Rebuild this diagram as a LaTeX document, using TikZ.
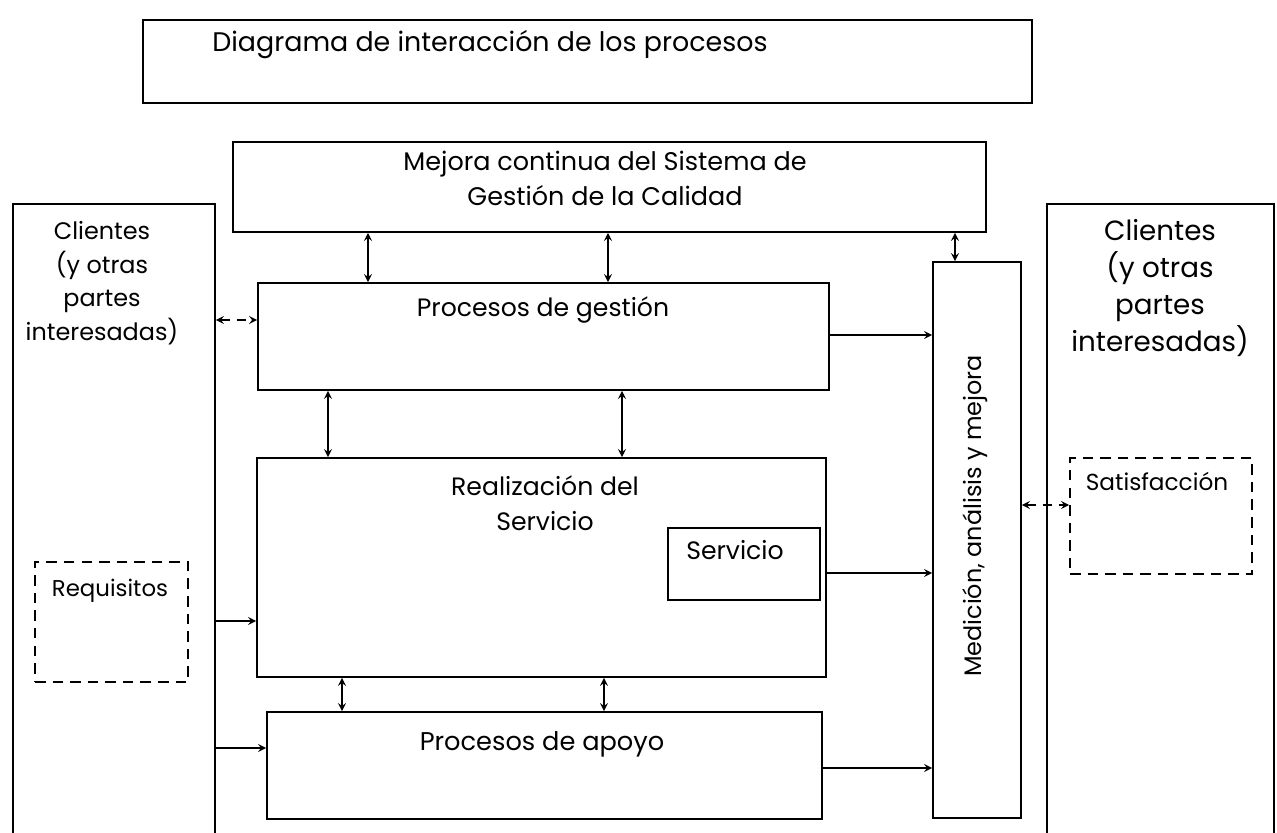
\documentclass[tikz,border=0pt]{standalone}
\usepackage{fontspec}
\setmainfont{Poppins}
\usetikzlibrary{positioning,fit}
\begin{document}
\begin{tikzpicture}[x=0.02cm, y=-0.02cm, >=stealth,
	box/.style={draw, line width=1pt, inner sep=0pt},
	dbox/.style={draw, line width=1pt, dash pattern=on 6pt off 4pt, inner sep=0pt},
	txt/.style={align=center, inner sep=0pt, font=\fontsize{14.3}{20}\selectfont},
	link/.style={line width=1pt, ->},
	both/.style={line width=1pt, <->},
	dboth/.style={line width=1pt, <->, dash pattern=on 5pt off 4pt}]
	\useasboundingbox (0,0) rectangle (1277,832);
	\clip (0,0) rectangle (1277,832);
	% cajas
	\node[box, fit={(143,20) (1032,103)}] (titulo) {};
	\node[box, fit={(233,142) (986,232)}] (mejora) {};
	\node[box, fit={(13,204) (215,850)}] (clientesL) {};
	\node[box, fit={(1047,204) (1274,850)}] (clientesR) {};
	\node[box, fit={(258,283) (829,390)}] (gestion) {};
	\node[box, fit={(257,458) (826,677)}] (real) {};
	\node[box, fit={(668,528) (820,600)}] (servicio) {};
	\node[box, fit={(267,712) (822,819)}] (apoyo) {};
	\node[box, fit={(933,262) (1021,818)}] (medicion) {};
	\node[dbox, fit={(35,562) (188,682)}] (requisitos) {};
	\node[dbox, fit={(1070,458) (1252,574)}] (satisfaccion) {};
	% textos
	\node[txt, anchor=west, font=\fontsize{15.3}{18}\selectfont] (titulotxt) at (212,45) {Diagrama de interacción de los procesos};
	\node[txt, font=\fontsize{14.5}{20}\selectfont] (mejoratxt) at (605,178) {Mejora continua del Sistema de\\Gestión de la Calidad};
	\node[txt, font=\fontsize{13.6}{19.2}\selectfont] (clientesLtxt) at (102,283) {Clientes\\(y otras\\partes\\interesadas)};
	\node[txt, font=\fontsize{15.8}{21}\selectfont] (clientesRtxt) at (1160,288) {Clientes\\(y otras\\partes\\interesadas)};
	\node[txt] (gestiontxt) at (543,310) {Procesos de gestión};
	\node[txt] (realtxt) at (545,503) {Realización del\\Servicio};
	\node[txt] (serviciotxt) at (735,550) {Servicio};
	\node[txt, font=\fontsize{14.6}{20}\selectfont] (apoyotxt) at (542,744) {Procesos de apoyo};
	\node[txt, rotate=90, font=\fontsize{13.6}{15}\selectfont] (mediciontxt) at (975,516) {Medición, análisis y mejora};
	\node[txt, font=\fontsize{13}{15}\selectfont] (requisitostxt) at (110,591) {Requisitos};
	\node[txt, font=\fontsize{13.2}{15}\selectfont] (satisfacciontxt) at (1157,481) {Satisfacción};
	% flechas
	\foreach \x/\a/\b in {368/mejora/gestion, 608/mejora/gestion, 955/mejora/medicion, 328/gestion/real, 622/gestion/real, 342/real/apoyo, 604/real/apoyo}{
		\draw[both] (\x,0 |- \a.south) -- (\x,0 |- \b.north);
	}
	\foreach \y/\a/\b in {335/gestion/medicion, 573/real/medicion, 768/apoyo/medicion, 621/clientesL/real, 748/clientesL/apoyo}{
		\draw[link] (\a.east |- 0,\y) -- (\b.west |- 0,\y);
	}
	\draw[dboth] (clientesL.east |- 0,320) -- (gestion.west |- 0,320);
	\draw[dboth] (medicion.east |- 0,505) -- (satisfaccion.west |- 0,505);
\end{tikzpicture}
\end{document}
